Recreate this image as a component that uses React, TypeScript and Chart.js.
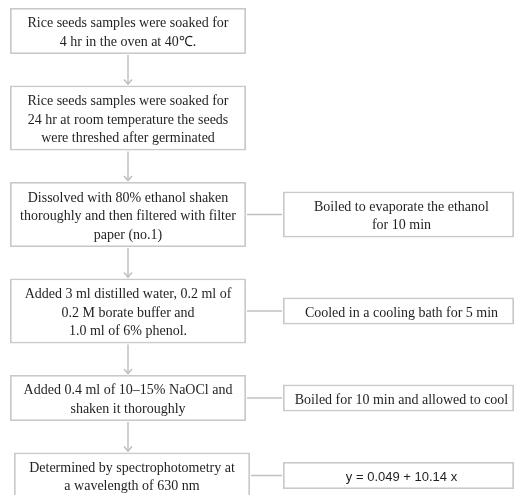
import { useEffect, useRef } from "react";
import { Chart, registerables } from "chart.js";

Chart.register(...registerables);

// ---- data ----
const STEP_TEXTS: string[][] = [
  ["Rice seeds samples were soaked for", "4 hr in the oven at 40\u2103."],
  [
    "Rice seeds samples were soaked for",
    "24 hr at room temperature the seeds",
    "were threshed after germinated",
  ],
  [
    "Dissolved with 80% ethanol shaken",
    "thoroughly and then filtered with filter",
    "paper (no.1)",
  ],
  [
    "Added 3 ml distilled water, 0.2 ml of",
    "0.2 M borate buffer and",
    "1.0 ml of 6% phenol.",
  ],
  ["Added 0.4 ml of 10\u201315% NaOCl and", "shaken it thoroughly"],
  ["Determined by spectrophotometry at", "a wavelength of 630 nm"],
];

const NOTE_TEXTS: (string[] | null)[] = [
  null,
  null,
  ["Boiled to evaporate the ethanol", "for 10 min"],
  ["Cooled in a cooling bath for 5 min"],
  ["Boiled for 10 min and allowed to cool"],
  ["y = 0.049 + 10.14 x"],
];

// ---- layout & style ----
const W = 516;
const H = 495;
const MAIN_COL = 0;
const NOTE_COL = 1;
const MAIN_X = 128;
const NOTE_X = 398.5;
const COL_UNIT = NOTE_X - MAIN_X;
const MAIN_W = 236;
const NOTE_W = 231;
const LAST_NUDGE = 4;
const TOP = 8;
const GAP = 31.5;
const LINE_BOX = 19;
const BOX_PAD = 8;
const TEXT_LH = 18.5;
const TEXT_DY = 2;
const NOTE_TEXT_DX = 3;
const SANS_NOTES = new Set([5]);
const SERIF = "14px 'Liberation Serif', 'Times New Roman', serif";
const SANS = "13px 'Liberation Sans', Arial, sans-serif";
const TEXT_COLOR = "#1f1f1f";
const BORDER_COLOR = "#c9c9c9";
const LINE_COLOR = "#c0c0c0";

const boxH = (lines: number) => lines * LINE_BOX + BOX_PAD;

function buildLayout() {
  const tops: number[] = [];
  let y = TOP;
  STEP_TEXTS.forEach((t) => {
    tops.push(y);
    y += boxH(t.length) + GAP;
  });
  const mainData = STEP_TEXTS.map((t, i) => ({
    x: MAIN_COL + (i === STEP_TEXTS.length - 1 ? LAST_NUDGE / COL_UNIT : 0),
    y: [tops[i], tops[i] + boxH(t.length)],
  }));
  const noteIdx: number[] = [];
  NOTE_TEXTS.forEach((n, i) => {
    if (n) noteIdx.push(i);
  });
  const noteData = noteIdx.map((i) => {
    const c = tops[i] + boxH(STEP_TEXTS[i].length) / 2;
    const h = boxH((NOTE_TEXTS[i] as string[]).length);
    return { x: NOTE_COL, y: [c - h / 2, c + h / 2] };
  });
  return { mainData, noteData, noteIdx };
}

export default function App() {
  const ref = useRef<HTMLCanvasElement | null>(null);

  useEffect(() => {
    let chart: Chart | null = null;
    let cancelled = false;
    const { mainData, noteData, noteIdx } = buildLayout();

    const flowPlugin = {
      id: "flow",
      afterDatasetsDraw(c: any) {
        const ctx = c.ctx;
        const mainMeta = c.getDatasetMeta(0);
        const noteMeta = c.getDatasetMeta(1);
        const xs = c.scales.x;
        const ax = xs.getPixelForValue(MAIN_COL);
        const box = (el: any) => {
          const p = el.getProps(["x", "y", "base", "width"], true);
          return {
            cx: p.x,
            left: p.x - p.width / 2,
            right: p.x + p.width / 2,
            top: Math.min(p.y, p.base),
            bottom: Math.max(p.y, p.base),
          };
        };
        ctx.save();
        ctx.strokeStyle = LINE_COLOR;
        ctx.lineWidth = 1.5;
        // vertical arrows
        for (let i = 1; i < mainMeta.data.length; i++) {
          const a = box(mainMeta.data[i - 1]);
          const b = box(mainMeta.data[i]);
          ctx.beginPath();
          ctx.moveTo(ax, a.bottom + 1);
          ctx.lineTo(ax, b.top - 1);
          ctx.stroke();
          ctx.beginPath();
          ctx.moveTo(ax - 4, b.top - 6);
          ctx.lineTo(ax, b.top - 1.5);
          ctx.lineTo(ax + 4, b.top - 6);
          ctx.stroke();
        }
        // horizontal connectors
        noteMeta.data.forEach((el: any, j: number) => {
          const n = box(el);
          const m = box(mainMeta.data[noteIdx[j]]);
          const cy = (n.top + n.bottom) / 2;
          ctx.beginPath();
          ctx.moveTo(m.right + 1, cy);
          ctx.lineTo(n.left - 1, cy);
          ctx.stroke();
        });
        // texts
        ctx.fillStyle = TEXT_COLOR;
        ctx.textAlign = "center";
        ctx.textBaseline = "middle";
        const drawLines = (lines: string[], cx: number, cy: number) => {
          lines.forEach((ln, k) => {
            ctx.fillText(ln, cx, cy + (k - (lines.length - 1) / 2) * TEXT_LH + TEXT_DY);
          });
        };
        ctx.font = SERIF;
        mainMeta.data.forEach((el: any, i: number) => {
          const b = box(el);
          drawLines(STEP_TEXTS[i], b.cx, (b.top + b.bottom) / 2);
        });
        noteMeta.data.forEach((el: any, j: number) => {
          const i = noteIdx[j];
          const b = box(el);
          ctx.font = SANS_NOTES.has(i) ? SANS : SERIF;
          drawLines(NOTE_TEXTS[i] as string[], b.cx + NOTE_TEXT_DX, (b.top + b.bottom) / 2);
        });
        ctx.restore();
      },
    };

    const create = () => {
      if (cancelled || !ref.current) return;
      chart = new Chart(ref.current, {
        type: "bar",
        data: {
          datasets: [
            {
              label: "steps",
              data: mainData as any,
              barThickness: MAIN_W,
              grouped: false,
              backgroundColor: "#ffffff",
              borderColor: BORDER_COLOR,
              borderWidth: 1.8,
              borderSkipped: false,
              inflateAmount: 0,
            } as any,
            {
              label: "notes",
              data: noteData as any,
              barThickness: NOTE_W,
              grouped: false,
              backgroundColor: "#ffffff",
              borderColor: BORDER_COLOR,
              borderWidth: 1.8,
              borderSkipped: false,
              inflateAmount: 0,
            } as any,
          ],
        },
        options: {
          animation: false,
          responsive: false,
          maintainAspectRatio: false,
          layout: { padding: 0 },
          events: [],
          scales: {
            x: {
              type: "linear",
              display: false,
              offset: false,
              min: -MAIN_X / COL_UNIT,
              max: (W - MAIN_X) / COL_UNIT,
              grid: { display: false },
            },
            y: {
              type: "linear",
              display: false,
              reverse: true,
              min: 0,
              max: H,
              grid: { display: false },
            },
          },
          plugins: {
            legend: { display: false },
            tooltip: { enabled: false },
          },
        } as any,
        plugins: [flowPlugin],
      });
    };

    const fonts: any = (document as any).fonts;
    if (fonts && fonts.load) {
      Promise.all([
        fonts.load("14px 'Liberation Serif'"),
        fonts.load("13px 'Liberation Sans'"),
      ])
        .catch(() => null)
        .then(create);
    } else {
      create();
    }

    return () => {
      cancelled = true;
      if (chart) chart.destroy();
    };
  }, []);

  return (
    <div style={{ position: "absolute", left: 0, top: 0, width: W, height: H, background: "#fff" }}>
      <canvas ref={ref} width={W} height={H} style={{ display: "block" }} />
    </div>
  );
}
